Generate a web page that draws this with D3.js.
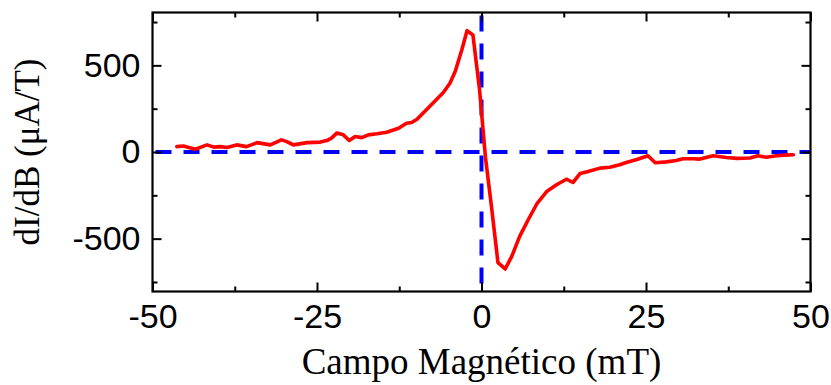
<!DOCTYPE html>
<html>
<head>
<meta charset="utf-8">
<script src="https://cdn.jsdelivr.net/npm/d3@7"></script>
<style>
  html, body { margin: 0; padding: 0; background: #fff; }
  svg { display: block; }
</style>
</head>
<body>
<svg id="chart" width="831" height="385"></svg>
<script>
// ---- Data ----
const fieldMT = [
  -46.3, -45.3, -43.5, -41.7, -40.7, -39.7, -38.7, -37.2, -35.7, -34.1,
  -32.1, -30.4, -29.6, -28.6, -26.5, -24.5, -23.5, -22.8, -22.0, -21.0,
  -20.1, -19.2, -18.2, -17.2, -15.9, -14.4, -12.6, -11.4, -10.6, -9.8,
  -8.3, -6.8, -5.8, -4.8, -4.0, -3.0, -2.2, -1.3, -0.3, 0.6,
  1.5, 2.5, 3.6, 4.6, 5.8, 7.1, 8.4, 9.9, 11.4, 12.9,
  13.9, 15.0, 16.2, 18.0, 19.5, 21.0, 22.0, 23.6, 25.3, 26.4,
  28.1, 29.6, 30.6, 32.2, 33.2, 35.2, 37.2, 38.8, 40.8, 42.0,
  43.3, 44.8, 46.1, 47.4
];
const dIdB = [
  31, 35, 16, 41, 28, 31, 26, 41, 31, 54,
  41, 70, 60, 41, 54, 57, 66, 80, 109, 99,
  66, 89, 83, 99, 105, 114, 137, 166, 170, 189,
  247, 305, 343, 397, 464, 589, 700, 675, 360, -30,
  -310, -638, -675, -602, -487, -391, -300, -228, -189, -157,
  -176, -124, -113, -93, -88, -74, -61, -43, -22, -62,
  -57, -49, -39, -39, -41, -22, -32, -37, -35, -22,
  -30, -22, -18, -16
];
const xMajorTicks = [-50, -25, 0, 25, 50];
const xMinorTicks = [-37.5, -12.5, 12.5, 37.5];
const yMajorTicks = [-500, 0, 500];
const yMinorTicks = [-750, -250, 250, 750];
const xDomain = [-50, 50];
const yDomain = [-805, 805];
const xTitle = "Campo Magnético (mT)";
const yTitle = "dI/dB (μA/T)";

// ---- Layout ----
const svg = d3.select("#chart");
const pL = 152.5, pR = 810.5, pT = 12.5, pB = 291.5;
const x = d3.scaleLinear().domain(xDomain).range([pL, pR]);
const y = d3.scaleLinear().domain(yDomain).range([pB, pT]);

const tickFont = "'Liberation Sans', Arial, Helvetica, sans-serif";
const titleFont = "'Liberation Serif', 'Times New Roman', Times, serif";
const fmt = d => String(d); // plain hyphen-minus like the reference

// Reference lines (dashed blue) at 0
svg.append("line")
  .attr("x1", pL + 3).attr("x2", pR)
  .attr("y1", y(0)).attr("y2", y(0))
  .attr("stroke", "#0000ff").attr("stroke-width", 4)
  .attr("stroke-dasharray", "16,12");
svg.append("line")
  .attr("x1", x(0)).attr("x2", x(0))
  .attr("y1", pT + 3).attr("y2", pB)
  .attr("stroke", "#0000ff").attr("stroke-width", 4)
  .attr("stroke-dasharray", "16,12");

// Data line
const pts = fieldMT.map((d, i) => [d, dIdB[i]]);
svg.append("path")
  .datum(pts)
  .attr("fill", "none")
  .attr("stroke", "#ff0000")
  .attr("stroke-width", 3.6)
  .attr("stroke-linejoin", "round")
  .attr("stroke-linecap", "round")
  .attr("d", d3.line().x(d => x(d[0])).y(d => y(d[1])));

// Axes
function styleAxis(g) {
  g.select(".domain").remove();
  g.selectAll(".tick line").attr("stroke", "#000").attr("stroke-width", 2);
  g.selectAll(".tick text")
    .attr("fill", "#000")
    .style("font-family", tickFont)
    .style("font-size", "34px");
}

svg.append("g").attr("transform", `translate(0,${pB})`)
  .call(d3.axisBottom(x).tickValues(xMajorTicks).tickSizeInner(-9).tickSizeOuter(0).tickPadding(12).tickFormat(fmt))
  .call(styleAxis);
svg.append("g").attr("transform", `translate(0,${pB})`)
  .call(d3.axisBottom(x).tickValues(xMinorTicks).tickSizeInner(-5).tickSizeOuter(0).tickFormat(""))
  .call(styleAxis);
svg.append("g").attr("transform", `translate(0,${pT})`)
  .call(d3.axisTop(x).tickValues(xMajorTicks).tickSizeInner(-9).tickSizeOuter(0).tickFormat(""))
  .call(styleAxis);
svg.append("g").attr("transform", `translate(0,${pT})`)
  .call(d3.axisTop(x).tickValues(xMinorTicks).tickSizeInner(-5).tickSizeOuter(0).tickFormat(""))
  .call(styleAxis);
svg.append("g").attr("transform", `translate(${pL},0)`)
  .call(d3.axisLeft(y).tickValues(yMajorTicks).tickSizeInner(-9).tickSizeOuter(0).tickPadding(12).tickFormat(fmt))
  .call(styleAxis);
svg.append("g").attr("transform", `translate(${pL},0)`)
  .call(d3.axisLeft(y).tickValues(yMinorTicks).tickSizeInner(-5).tickSizeOuter(0).tickFormat(""))
  .call(styleAxis);
svg.append("g").attr("transform", `translate(${pR},0)`)
  .call(d3.axisRight(y).tickValues(yMajorTicks).tickSizeInner(-9).tickSizeOuter(0).tickFormat(""))
  .call(styleAxis);
svg.append("g").attr("transform", `translate(${pR},0)`)
  .call(d3.axisRight(y).tickValues(yMinorTicks).tickSizeInner(-5).tickSizeOuter(0).tickFormat(""))
  .call(styleAxis);

// frame
svg.append("rect")
  .attr("x", pL).attr("y", pT)
  .attr("width", pR - pL).attr("height", pB - pT)
  .attr("fill", "none").attr("stroke", "#000").attr("stroke-width", 2.2);

// Titles
svg.append("text")
  .attr("x", (pL + pR) / 2).attr("y", 374)
  .attr("text-anchor", "middle")
  .style("font-family", titleFont).style("font-size", "37px")
  .attr("fill", "#000")
  .text(xTitle);
svg.append("text")
  .attr("transform", `translate(39,${(pT + pB) / 2}) rotate(-90)`)
  .attr("text-anchor", "middle")
  .style("font-family", titleFont).style("font-size", "35px")
  .attr("fill", "#000")
  .text(yTitle);
</script>
</body>
</html>
